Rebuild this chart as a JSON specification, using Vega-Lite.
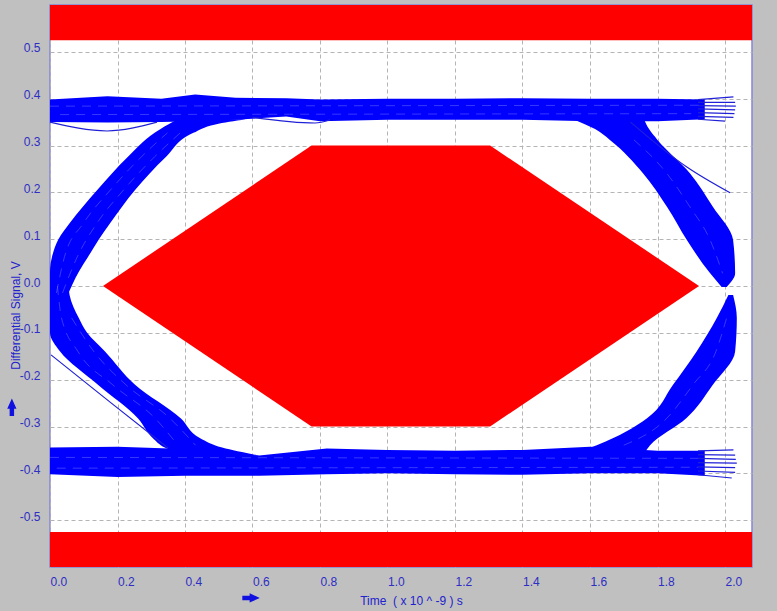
{
  "$schema": "https://vega.github.io/schema/vega-lite/v6.json",
  "width": 702,
  "height": 562,
  "autosize": "none",
  "padding": {"left": 50, "top": 5, "right": 25, "bottom": 44},
  "background": "#c0c0c0",
  "config": {
    "view": {"fill": "white", "stroke": "#8585d6", "strokeWidth": 1.5},
    "axis": {
      "labelFont": "Liberation Sans",
      "labelFontSize": 12,
      "labelColor": "#2e2ec4",
      "titleFont": "Liberation Sans",
      "titleFontSize": 12,
      "titleFontWeight": "normal",
      "titleColor": "#2222cc",
      "ticks": false,
      "domain": false,
      "grid": true,
      "gridColor": "#b4b4b4",
      "gridDash": [4, 3],
      "gridWidth": 1,
      "labelFlush": false,
      "labelOverlap": false
    }
  },
  "datasets": {
    "bands": [{"lo": 0.525, "hi": 0.6}, {"lo": -0.6, "hi": -0.525}],
    "hex": [
      {"x": 0.157, "top": 0, "bot": 0},
      {"x": 0.775, "top": 0.3, "bot": -0.3},
      {"x": 1.304, "top": 0.3, "bot": -0.3},
      {"x": 1.923, "top": 0, "bot": 0}
    ],
    "rails": [
      {"id": "top", "x": 0.0, "hi": 0.398, "lo": 0.35},
      {"id": "top", "x": 0.17, "hi": 0.405, "lo": 0.349},
      {"id": "top", "x": 0.33, "hi": 0.4, "lo": 0.35},
      {"id": "top", "x": 0.43, "hi": 0.409, "lo": 0.352},
      {"id": "top", "x": 0.55, "hi": 0.402, "lo": 0.355},
      {"id": "top", "x": 0.7, "hi": 0.401, "lo": 0.362},
      {"id": "top", "x": 0.8, "hi": 0.398, "lo": 0.352},
      {"id": "top", "x": 1.0, "hi": 0.4, "lo": 0.355},
      {"id": "top", "x": 1.2, "hi": 0.4, "lo": 0.355},
      {"id": "top", "x": 1.4, "hi": 0.401, "lo": 0.355},
      {"id": "top", "x": 1.6, "hi": 0.4, "lo": 0.352},
      {"id": "top", "x": 1.8, "hi": 0.4, "lo": 0.352},
      {"id": "top", "x": 1.94, "hi": 0.398, "lo": 0.356},
      {"id": "bot", "x": 0.0, "hi": -0.345, "lo": -0.402},
      {"id": "bot", "x": 0.2, "hi": -0.343, "lo": -0.408},
      {"id": "bot", "x": 0.4, "hi": -0.348, "lo": -0.405},
      {"id": "bot", "x": 0.62, "hi": -0.362, "lo": -0.405},
      {"id": "bot", "x": 0.82, "hi": -0.347, "lo": -0.402},
      {"id": "bot", "x": 1.0, "hi": -0.35, "lo": -0.4},
      {"id": "bot", "x": 1.2, "hi": -0.352, "lo": -0.402},
      {"id": "bot", "x": 1.4, "hi": -0.35, "lo": -0.403},
      {"id": "bot", "x": 1.6, "hi": -0.343, "lo": -0.4},
      {"id": "bot", "x": 1.8, "hi": -0.352, "lo": -0.4},
      {"id": "bot", "x": 1.94, "hi": -0.352, "lo": -0.405}
    ],
    "bundles": [
      {"id": "LR", "y": -0.02, "xl": 0.0, "xr": 0.052},
      {"id": "LR", "y": 0.03, "xl": 0.0, "xr": 0.085},
      {"id": "LR", "y": 0.0625, "xl": 0.006, "xr": 0.113},
      {"id": "LR", "y": 0.1, "xl": 0.025, "xr": 0.145},
      {"id": "LR", "y": 0.134, "xl": 0.058, "xr": 0.178},
      {"id": "LR", "y": 0.205, "xl": 0.14, "xr": 0.252},
      {"id": "LR", "y": 0.276, "xl": 0.231, "xr": 0.344},
      {"id": "LR", "y": 0.327, "xl": 0.31, "xr": 0.425},
      {"id": "LR", "y": 0.345, "xl": 0.35, "xr": 0.49},
      {"id": "LR", "y": 0.356, "xl": 0.38, "xr": 0.58},
      {"id": "LF", "y": 0.0, "xl": 0.0, "xr": 0.055},
      {"id": "LF", "y": -0.019, "xl": 0.0, "xr": 0.058},
      {"id": "LF", "y": -0.068, "xl": 0.0, "xr": 0.085},
      {"id": "LF", "y": -0.1, "xl": 0.0, "xr": 0.11},
      {"id": "LF", "y": -0.14, "xl": 0.03, "xr": 0.163},
      {"id": "LF", "y": -0.211, "xl": 0.142, "xr": 0.252},
      {"id": "LF", "y": -0.283, "xl": 0.261, "xr": 0.388},
      {"id": "LF", "y": -0.325, "xl": 0.305, "xr": 0.445},
      {"id": "LF", "y": -0.345, "xl": 0.34, "xr": 0.51},
      {"id": "LF", "y": -0.362, "xl": 0.4, "xr": 0.62},
      {"id": "RF", "y": 0.356, "xl": 1.55, "xr": 1.76},
      {"id": "RF", "y": 0.335, "xl": 1.615, "xr": 1.775},
      {"id": "RF", "y": 0.312, "xl": 1.659, "xr": 1.8},
      {"id": "RF", "y": 0.241, "xl": 1.757, "xr": 1.896},
      {"id": "RF", "y": 0.169, "xl": 1.828, "xr": 1.964},
      {"id": "RF", "y": 0.098, "xl": 1.887, "xr": 2.024},
      {"id": "RF", "y": 0.027, "xl": 1.956, "xr": 2.03},
      {"id": "RF", "y": -0.002, "xl": 1.99, "xr": 2.005},
      {"id": "RR", "y": -0.358, "xl": 1.55, "xr": 1.76},
      {"id": "RR", "y": -0.34, "xl": 1.62, "xr": 1.778},
      {"id": "RR", "y": -0.282, "xl": 1.77, "xr": 1.886},
      {"id": "RR", "y": -0.211, "xl": 1.846, "xr": 1.964},
      {"id": "RR", "y": -0.14, "xl": 1.916, "xr": 2.03},
      {"id": "RR", "y": -0.068, "xl": 1.976, "xr": 2.035},
      {"id": "RR", "y": -0.019, "xl": 2.01, "xr": 2.024}
    ],
    "streaks": [
      {"id": "s1", "ord": 1, "x": 0.019, "y": -0.015},
      {"id": "s1", "ord": 2, "x": 0.043, "y": 0.0625},
      {"id": "s1", "ord": 3, "x": 0.099, "y": 0.134},
      {"id": "s1", "ord": 4, "x": 0.179, "y": 0.205},
      {"id": "s1", "ord": 5, "x": 0.271, "y": 0.276},
      {"id": "s1", "ord": 6, "x": 0.348, "y": 0.327},
      {"id": "s2", "ord": 1, "x": 0.037, "y": -0.015},
      {"id": "s2", "ord": 2, "x": 0.081, "y": 0.0625},
      {"id": "s2", "ord": 3, "x": 0.139, "y": 0.134},
      {"id": "s2", "ord": 4, "x": 0.218, "y": 0.205},
      {"id": "s2", "ord": 5, "x": 0.31, "y": 0.276},
      {"id": "s2", "ord": 6, "x": 0.386, "y": 0.327},
      {"id": "s3", "ord": 1, "x": 0.022, "y": 0.0},
      {"id": "s3", "ord": 2, "x": 0.034, "y": -0.068},
      {"id": "s3", "ord": 3, "x": 0.083, "y": -0.14},
      {"id": "s3", "ord": 4, "x": 0.186, "y": -0.211},
      {"id": "s3", "ord": 5, "x": 0.312, "y": -0.283},
      {"id": "s3", "ord": 6, "x": 0.379, "y": -0.34},
      {"id": "s4", "ord": 1, "x": 0.064, "y": -0.068},
      {"id": "s4", "ord": 2, "x": 0.13, "y": -0.14},
      {"id": "s4", "ord": 3, "x": 0.225, "y": -0.211},
      {"id": "s4", "ord": 4, "x": 0.356, "y": -0.283},
      {"id": "s4", "ord": 5, "x": 0.431, "y": -0.34},
      {"id": "s5", "ord": 1, "x": 1.73, "y": 0.312},
      {"id": "s5", "ord": 2, "x": 1.827, "y": 0.241},
      {"id": "s5", "ord": 3, "x": 1.896, "y": 0.169},
      {"id": "s5", "ord": 4, "x": 1.956, "y": 0.098},
      {"id": "s5", "ord": 5, "x": 1.993, "y": 0.027},
      {"id": "s6", "ord": 1, "x": 1.7, "y": -0.34},
      {"id": "s6", "ord": 2, "x": 1.828, "y": -0.282},
      {"id": "s6", "ord": 3, "x": 1.905, "y": -0.211},
      {"id": "s6", "ord": 4, "x": 1.973, "y": -0.14},
      {"id": "s6", "ord": 5, "x": 2.005, "y": -0.068},
      {"id": "s7", "ord": 1, "x": 0.0, "y": 0.384},
      {"id": "s7", "ord": 2, "x": 1.93, "y": 0.386},
      {"id": "s8", "ord": 1, "x": 0.03, "y": 0.366},
      {"id": "s8", "ord": 2, "x": 1.9, "y": 0.368},
      {"id": "s9", "ord": 1, "x": 0.0, "y": -0.366},
      {"id": "s9", "ord": 2, "x": 1.93, "y": -0.368},
      {"id": "s10", "ord": 1, "x": 0.02, "y": -0.389},
      {"id": "s10", "ord": 2, "x": 1.92, "y": -0.387}
    ],
    "traces": [
      {"id": "t1", "ord": 1, "x": 0.003, "y": -0.147},
      {"id": "t1", "ord": 2, "x": 0.178, "y": -0.248},
      {"id": "t1", "ord": 3, "x": 0.35, "y": -0.346},
      {"id": "t2", "ord": 1, "x": 0.0, "y": 0.35},
      {"id": "t2", "ord": 2, "x": 0.169, "y": 0.331},
      {"id": "t2", "ord": 3, "x": 0.317, "y": 0.35},
      {"id": "t3", "ord": 1, "x": 1.72, "y": 0.35},
      {"id": "t3", "ord": 2, "x": 1.887, "y": 0.254},
      {"id": "t3", "ord": 3, "x": 2.015, "y": 0.199},
      {"id": "t4", "ord": 1, "x": 0.6, "y": 0.36},
      {"id": "t4", "ord": 2, "x": 0.785, "y": 0.348},
      {"id": "t4", "ord": 3, "x": 0.83, "y": 0.355},
      {"id": "a1", "ord": 1, "x": 1.92, "y": 0.398},
      {"id": "a1", "ord": 2, "x": 2.025, "y": 0.404},
      {"id": "a2", "ord": 1, "x": 1.92, "y": 0.392},
      {"id": "a2", "ord": 2, "x": 2.03, "y": 0.392},
      {"id": "a3", "ord": 1, "x": 1.92, "y": 0.385},
      {"id": "a3", "ord": 2, "x": 2.032, "y": 0.384},
      {"id": "a4", "ord": 1, "x": 1.92, "y": 0.378},
      {"id": "a4", "ord": 2, "x": 2.03, "y": 0.376},
      {"id": "a5", "ord": 1, "x": 1.92, "y": 0.37},
      {"id": "a5", "ord": 2, "x": 2.028, "y": 0.368},
      {"id": "a6", "ord": 1, "x": 1.92, "y": 0.362},
      {"id": "a6", "ord": 2, "x": 2.025, "y": 0.36},
      {"id": "a7", "ord": 1, "x": 1.92, "y": 0.356},
      {"id": "a7", "ord": 2, "x": 2.0, "y": 0.352},
      {"id": "b1", "ord": 1, "x": 1.92, "y": -0.352},
      {"id": "b1", "ord": 2, "x": 2.025, "y": -0.35},
      {"id": "b2", "ord": 1, "x": 1.92, "y": -0.36},
      {"id": "b2", "ord": 2, "x": 2.03, "y": -0.361},
      {"id": "b3", "ord": 1, "x": 1.92, "y": -0.368},
      {"id": "b3", "ord": 2, "x": 2.032, "y": -0.37},
      {"id": "b4", "ord": 1, "x": 1.92, "y": -0.377},
      {"id": "b4", "ord": 2, "x": 2.035, "y": -0.378},
      {"id": "b5", "ord": 1, "x": 1.92, "y": -0.386},
      {"id": "b5", "ord": 2, "x": 2.03, "y": -0.388},
      {"id": "b6", "ord": 1, "x": 1.92, "y": -0.395},
      {"id": "b6", "ord": 2, "x": 2.03, "y": -0.398},
      {"id": "b7", "ord": 1, "x": 1.92, "y": -0.403},
      {"id": "b7", "ord": 2, "x": 2.02, "y": -0.41}
    ]
  },
  "layer": [
    {
      "data": {"name": "hex"},
      "mark": {"type": "area", "color": "#ff0000", "interpolate": "linear"},
      "encoding": {
        "x": {
          "field": "x", "type": "quantitative",
          "scale": {"domain": [0, 2.08], "nice": false, "zero": false},
          "axis": {
            "title": "Time\u00a0 ( x 10 ^ -9 ) s",
            "values": [0, 0.2, 0.4, 0.6, 0.8, 1.0, 1.2, 1.4, 1.6, 1.8, 2.0],
            "labelExpr": "replace(format(datum.value, '.1f'), '\u2212', '-')",
            "labelAlign": "left",
            "labelBaseline": "top",
            "labelPadding": 9,
            "titleX": 361,
            "titleY": 33,
            "titleAlign": "center",
            "titleBaseline": "middle"
          }
        },
        "y": {
          "field": "top", "type": "quantitative",
          "scale": {"domain": [-0.6, 0.6], "nice": false, "zero": false},
          "axis": {
            "title": "Differential Signal, V",
            "values": [-0.5, -0.4, -0.3, -0.2, -0.1, 0, 0.1, 0.2, 0.3, 0.4, 0.5],
            "labelExpr": "replace(format(datum.value, '.1f'), '\u2212', '-')",
            "labelAlign": "right",
            "labelBaseline": "alphabetic",
            "labelPadding": 10,
            "titleX": -35,
            "titleY": 310,
            "titleAngle": -90,
            "titleAlign": "center",
            "titleBaseline": "middle"
          }
        },
        "y2": {"field": "bot"}
      }
    },
    {
      "data": {"name": "bands"},
      "mark": {"type": "rect", "color": "#ff0000"},
      "encoding": {
        "x": {"datum": 0, "type": "quantitative"},
        "x2": {"datum": 2.08},
        "y": {"field": "lo", "type": "quantitative"},
        "y2": {"field": "hi"}
      }
    },
    {
      "data": {"name": "rails"},
      "mark": {"type": "area", "color": "#0000ff", "interpolate": "linear"},
      "encoding": {
        "x": {"field": "x", "type": "quantitative"},
        "y": {"field": "hi", "type": "quantitative"},
        "y2": {"field": "lo"},
        "detail": {"field": "id"}
      }
    },
    {
      "data": {"name": "bundles"},
      "mark": {"type": "area", "orient": "horizontal", "color": "#0000ff", "interpolate": "monotone"},
      "encoding": {
        "y": {"field": "y", "type": "quantitative"},
        "x": {"field": "xl", "type": "quantitative", "stack": null},
        "x2": {"field": "xr"},
        "detail": {"field": "id"}
      }
    },
    {
      "data": {"name": "streaks"},
      "mark": {"type": "line", "color": "#8c8cff", "strokeWidth": 0.8, "strokeDash": [9, 7], "interpolate": "monotone", "opacity": 0.5},
      "encoding": {
        "x": {"field": "x", "type": "quantitative"},
        "y": {"field": "y", "type": "quantitative"},
        "detail": {"field": "id"},
        "order": {"field": "ord"}
      }
    },
    {
      "data": {"name": "traces"},
      "mark": {"type": "line", "color": "#2020d8", "strokeWidth": 1.2, "interpolate": "monotone"},
      "encoding": {
        "x": {"field": "x", "type": "quantitative"},
        "y": {"field": "y", "type": "quantitative"},
        "detail": {"field": "id"},
        "order": {"field": "ord"}
      }
    },
    {
      "data": {"values": [{}]},
      "mark": {"type": "point", "shape": "arrow", "filled": true, "color": "#1010e0", "stroke": "#1010e0", "strokeWidth": 2.6, "size": 170, "angle": 90, "opacity": 1},
      "encoding": {
        "x": {"datum": 0.593, "type": "quantitative"},
        "y": {"datum": -0.666, "type": "quantitative"}
      }
    },
    {
      "data": {"values": [{}]},
      "mark": {"type": "point", "shape": "arrow", "filled": true, "color": "#1010e0", "stroke": "#1010e0", "strokeWidth": 2.6, "size": 170, "angle": 0, "opacity": 1},
      "encoding": {
        "x": {"datum": -0.113, "type": "quantitative"},
        "y": {"datum": -0.261, "type": "quantitative"}
      }
    }
  ]
}
